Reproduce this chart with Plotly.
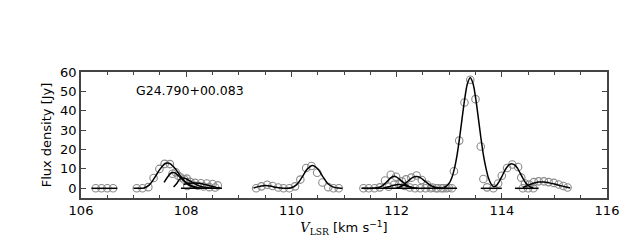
import plotly.graph_objects as go

# ---- channel data (circles) ----
chan_v = [106.28, 106.39, 106.50, 106.61,
          107.06, 107.17, 107.28, 107.38, 107.49, 107.59, 107.69, 107.74, 107.80, 107.85,
          107.90, 107.96, 108.01, 108.02, 108.07, 108.12, 108.17, 108.22, 108.28, 108.33,
          108.39, 108.44, 108.50, 108.55, 108.60,
          109.33, 109.43, 109.54, 109.64, 109.75, 109.85, 109.96, 110.07, 110.17, 110.28,
          110.38, 110.49, 110.59, 110.70, 110.80, 110.90,
          111.37, 111.47, 111.58, 111.68, 111.78, 111.89, 111.99, 112.10, 112.18, 112.28,
          112.38, 112.48, 112.58, 112.68, 112.78, 112.89, 112.99,
          111.85, 111.95, 112.05, 112.15, 112.25, 112.35, 112.45, 112.55, 112.65, 112.75,
          112.85, 112.95, 113.05,
          113.09, 113.19, 113.29, 113.40, 113.50, 113.60,
          113.65, 113.72, 113.84, 113.93, 114.00, 114.10, 114.20, 114.31, 114.37, 114.44,
          114.40, 114.50, 114.60,
          114.52, 114.61, 114.70, 114.80, 114.89, 114.99, 115.08, 115.17, 115.25]
chan_f = [0, 0, 0, 0,
          0, 0, 0.6, 5.3, 10.0, 12.6, 12.5, 7.5, 8.3, 6.5,
          5.6, 4.6, 5.0, 1.2, 3.3, 2.0, 2.8, 1.3, 2.6, 0.9,
          2.5, 0.6, 2.2, 0.4, 1.5,
          0, 1.0, 1.8, 1.2, 0.4, 0, 0, 1.0, 4.5, 10.5,
          11.5, 8.0, 3.0, 0.6, 0, 0,
          0, 0, 0, 0.5, 4.0, 7.0, 6.0, 3.6, 4.6, 5.5,
          6.6, 4.3, 1.8, 0.4, 0, 0, 0.3,
          0.8, 1.8, 2.0, 1.2, 0.4, 0, 0, 0, 0, 0,
          0, 0, 0,
          8.8, 24.6, 44.3, 56.0, 46.0, 21.6,
          4.8, 0.5, 0, 2.5, 6.5, 10.5, 12.3, 11.0, 5.5, 2.5,
          0, 0, 0,
          1.9, 3.2, 3.6, 3.6, 3.2, 2.8, 2.0, 1.2, 0.4]

# ---- fitted profiles ----
fitA_v = [106.20, 106.69]
fitA_f = [0, 0]

fitB1_v = [107.0, 107.1, 107.2, 107.3, 107.4, 107.5, 107.6, 107.65, 107.7, 107.8, 107.9, 108.0, 108.1, 108.2, 108.3]
fitB1_f = [0, 0, 0.2, 1.8, 5.5, 9.8, 12.8, 13.1, 12.6, 9.8, 6.0, 2.8, 1.0, 0.3, 0.05]

fitB2_v = [107.58, 107.65, 107.72, 107.78, 107.85, 107.95, 108.05, 108.15, 108.25]
fitB2_f = [3.0, 6.0, 8.0, 8.0, 6.5, 4.0, 2.0, 0.8, 0.2]

fitB3_v = [107.76, 107.82, 107.88, 107.95, 108.0, 108.1, 108.2, 108.3, 108.4, 108.5]
fitB3_f = [0.7, 2.5, 4.8, 5.3, 4.9, 3.3, 1.8, 0.8, 0.3, 0.1]

fitB4_v = [107.95, 108.05, 108.15, 108.25, 108.35, 108.45, 108.55, 108.65]
fitB4_f = [2.0, 2.6, 2.8, 2.6, 2.0, 1.3, 0.6, 0.1]

fitB5_v = [107.9, 108.68]
fitB5_f = [0, 0]

fitC_v = [109.28, 109.4, 109.5, 109.6, 109.7, 109.8, 109.9, 110.0, 110.1, 110.2, 110.3, 110.4, 110.5, 110.6, 110.7, 110.8, 110.9, 110.97]
fitC_f = [0.2, 1.0, 1.5, 1.2, 0.5, 0.1, 0, 0.3, 1.9, 5.6, 9.9, 11.8, 10.1, 5.9, 2.2, 0.6, 0.1, 0]

fitD0_v = [111.33, 113.15]
fitD0_f = [0, 0]

fitD1_v = [111.35, 111.6, 111.7, 111.8, 111.9, 111.95, 112.0, 112.1, 112.2, 112.3, 112.4]
fitD1_f = [0, 0.1, 0.8, 3.0, 5.6, 6.2, 5.8, 3.6, 1.5, 0.4, 0.05]

fitD2_v = [112.0, 112.1, 112.2, 112.3, 112.38, 112.45, 112.55, 112.65, 112.75, 112.85, 112.95]
fitD2_f = [0.2, 1.2, 3.3, 5.5, 6.1, 5.5, 3.4, 1.4, 0.4, 0.1, 0]

fitD3_v = [111.75, 111.85, 111.95, 112.05, 112.15, 112.25, 112.35]
fitD3_f = [0.1, 0.8, 1.6, 1.9, 1.4, 0.6, 0.1]

fitE_v = [112.9, 112.95, 113.0, 113.05, 113.1, 113.15, 113.2, 113.25, 113.3, 113.35, 113.4,
          113.45, 113.5, 113.55, 113.6, 113.65, 113.7, 113.75, 113.8, 113.85, 113.9, 113.95,
          114.0, 114.05, 114.1, 114.15, 114.2, 114.25, 114.3, 114.35, 114.4, 114.45, 114.5,
          114.55, 114.6]
fitE_f = [0.5, 1.2, 2.7, 5.5, 10.3, 17.3, 26.6, 37.1, 47.1, 54.3, 57.0,
          54.3, 47.1, 37.1, 26.6, 17.3, 10.3, 5.0, 2.0, 0.8, 1.5, 3.5,
          6.0, 8.8, 11.0, 12.3, 12.6, 12.0, 10.3, 7.8, 5.2, 3.0, 1.5,
          0.6, 0.2]

fitF1_v = [113.6, 114.0]
fitF1_f = [0, 0]
fitF2_v = [114.25, 114.7]
fitF2_f = [0, 0]

fitG_v = [114.4, 114.5, 114.6, 114.7, 114.8, 114.9, 115.0, 115.1, 115.2, 115.3]
fitG_f = [0.4, 1.5, 2.6, 3.2, 3.2, 2.8, 2.2, 1.5, 0.8, 0.2]

source_label = "G24.790+00.083"
x_ticks = [106, 108, 110, 112, 114, 116]
y_ticks = [0, 10, 20, 30, 40, 50, 60]

fig = go.Figure()
fig.add_trace(go.Scatter(x=chan_v, y=chan_f, mode="markers",
                         marker=dict(symbol="circle-open", size=7.5, color="#8a8a8a",
                                     line=dict(width=1.1, color="#8a8a8a"))))

fits = [(fitA_v, fitA_f), (fitB1_v, fitB1_f), (fitB2_v, fitB2_f), (fitB3_v, fitB3_f),
        (fitB4_v, fitB4_f), (fitB5_v, fitB5_f), (fitC_v, fitC_f), (fitD0_v, fitD0_f),
        (fitD1_v, fitD1_f), (fitD2_v, fitD2_f), (fitD3_v, fitD3_f), (fitE_v, fitE_f),
        (fitF1_v, fitF1_f), (fitF2_v, fitF2_f), (fitG_v, fitG_f)]
for fv, ff in fits:
    fig.add_trace(go.Scatter(x=fv, y=ff, mode="lines",
                             line=dict(color="black", width=1.5, shape="spline", smoothing=1.0)))

fig.add_annotation(x=107.0, y=50.4, xref="x", yref="y", text=source_label, showarrow=False,
                   xanchor="left", yanchor="middle",
                   font=dict(family="DejaVu Sans", size=12.5, color="black"))

axis_common = dict(showline=True, linecolor="#444", linewidth=1.5, mirror="ticks",
                   ticks="inside", tickcolor="#444", showgrid=False, zeroline=False,
                   automargin=False,
                   tickfont=dict(family="DejaVu Sans", size=13, color="black"))

fig.update_xaxes(range=[106, 116], tickvals=x_ticks, ticklen=5,
                 minor=dict(dtick=0.5, tick0=106, ticks="inside", ticklen=3, tickcolor="#444"),
                 title=dict(text="<span style='font-family:DejaVu Serif'><i>V</i><sub>LSR</sub></span> [km s<sup>−1</sup>]",
                            font=dict(family="DejaVu Sans", size=13, color="black"), standoff=6),
                 **axis_common)
fig.update_yaxes(range=[-5, 60], tickvals=y_ticks, ticklen=5,
                 title=dict(text="Flux density [Jy]",
                            font=dict(family="DejaVu Sans", size=13, color="black"), standoff=6),
                 **axis_common)

fig.update_layout(width=640, height=240, margin=dict(l=81, r=33, t=72, b=42),
                  plot_bgcolor="white", paper_bgcolor="white", showlegend=False)

fig.write_html("out.html", config={"displayModeBar": False},
               post_script="document.body.style.margin='0px';document.body.style.padding='0px';")
